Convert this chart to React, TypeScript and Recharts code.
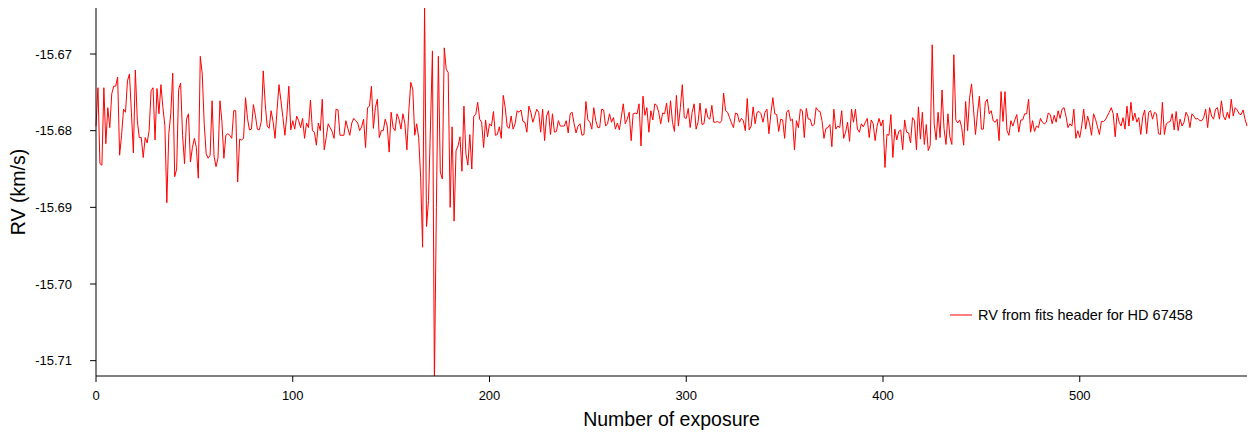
import { LineChart, Line, XAxis, YAxis } from 'recharts';

// RV per exposure in blocks of about fifty exposures
const rvEarly = [
  -15.6794, -15.6744, -15.6843, -15.6845, -15.6744, -15.6817, -15.6770, -15.6796, -15.6752, -15.6742,
  -15.6742, -15.6730, -15.6832, -15.6806, -15.6772, -15.6776, -15.6735, -15.6726, -15.6776, -15.6829,
  -15.6721, -15.6787, -15.6809, -15.6809, -15.6835, -15.6809, -15.6816, -15.6800, -15.6748, -15.6744,
  -15.6812, -15.6745, -15.6778, -15.6740, -15.6770, -15.6793, -15.6894, -15.6804, -15.6778, -15.6725,
  -15.6860, -15.6850, -15.6746, -15.6738, -15.6806, -15.6843,
  -15.6785, -15.6778, -15.6841, -15.6822, -15.6810, -15.6822, -15.6862, -15.6703, -15.6726, -15.6791,
  -15.6830, -15.6836, -15.6832, -15.6761, -15.6833, -15.6847, -15.6836, -15.6761, -15.6788, -15.6836,
  -15.6806, -15.6804, -15.6806, -15.6810, -15.6774, -15.6774, -15.6867, -15.6811, -15.6812, -15.6810,
  -15.6757, -15.6784, -15.6799, -15.6798, -15.6766, -15.6780, -15.6798, -15.6799, -15.6788, -15.6722,
  -15.6765, -15.6794, -15.6797, -15.6774, -15.6788, -15.6810, -15.6774, -15.6740, -15.6761, -15.6783,
  -15.6806,
  -15.6780, -15.6742, -15.6799, -15.6787, -15.6798, -15.6781, -15.6787, -15.6796, -15.6784, -15.6810,
  -15.6790, -15.6796, -15.6760, -15.6800, -15.6802, -15.6819, -15.6790, -15.6800, -15.6759, -15.6825,
  -15.6809, -15.6791, -15.6796, -15.6801, -15.6810, -15.6772, -15.6773, -15.6806, -15.6806, -15.6806,
  -15.6787, -15.6797, -15.6806, -15.6790, -15.6784, -15.6787, -15.6790, -15.6800, -15.6795, -15.6785,
  -15.6822, -15.6770, -15.6768, -15.6742, -15.6797, -15.6770, -15.6759, -15.6809, -15.6800,
];

const rvSpike = [
  -15.6800, -15.6785, -15.6794, -15.6828, -15.6776, -15.6796, -15.6800, -15.6778, -15.6785, -15.6798,
  -15.6778, -15.6791, -15.6825, -15.6774, -15.6737, -15.6746, -15.6806, -15.6791, -15.6809, -15.6861,
  -15.6952, -15.6635, -15.6925, -15.6891, -15.6794, -15.6696, -15.7130, -15.6900, -15.6703, -15.6854,
  -15.6863, -15.6692, -15.6720, -15.6724, -15.6900, -15.6795, -15.6918, -15.6826, -15.6820, -15.6808,
  -15.6853, -15.6768, -15.6830, -15.6845, -15.6805, -15.6850, -15.6781, -15.6779, -15.6763,
];

const rvMiddle = [
  -15.6785, -15.6789, -15.6822, -15.6786, -15.6808, -15.6791, -15.6794, -15.6775, -15.6806, -15.6805,
  -15.6795, -15.6810, -15.6754, -15.6770, -15.6795, -15.6797, -15.6781, -15.6798, -15.6791, -15.6774,
  -15.6776, -15.6773, -15.6788, -15.6789, -15.6802, -15.6768, -15.6776, -15.6789, -15.6781, -15.6772,
  -15.6776, -15.6802, -15.6772, -15.6813, -15.6781, -15.6774, -15.6805, -15.6778, -15.6802, -15.6801,
  -15.6787, -15.6794, -15.6794, -15.6794, -15.6787, -15.6803, -15.6778, -15.6776,
  -15.6791, -15.6803, -15.6794, -15.6791, -15.6806, -15.6805, -15.6762, -15.6786, -15.6789, -15.6798,
  -15.6770, -15.6787, -15.6796, -15.6796, -15.6772, -15.6773, -15.6794, -15.6791, -15.6778, -15.6789,
  -15.6783, -15.6798, -15.6790, -15.6799, -15.6782, -15.6765, -15.6791, -15.6785, -15.6776, -15.6813,
  -15.6778, -15.6777, -15.6778, -15.6765, -15.6820, -15.6755, -15.6780, -15.6770, -15.6802, -15.6774,
  -15.6786, -15.6765, -15.6767, -15.6776, -15.6791, -15.6777, -15.6778, -15.6764, -15.6789,
  -15.6761, -15.6789, -15.6801, -15.6754, -15.6794, -15.6770, -15.6740, -15.6783, -15.6784, -15.6771,
  -15.6796, -15.6776, -15.6765, -15.6798, -15.6789, -15.6764, -15.6792, -15.6791, -15.6771, -15.6783,
  -15.6785, -15.6767, -15.6789, -15.6789, -15.6788, -15.6790, -15.6787, -15.6751, -15.6774, -15.6776,
  -15.6783, -15.6790, -15.6796, -15.6777, -15.6778, -15.6789, -15.6784, -15.6787, -15.6800, -15.6758,
  -15.6799, -15.6794, -15.6769, -15.6791, -15.6776, -15.6775, -15.6778, -15.6789, -15.6776,
  -15.6772, -15.6804, -15.6778, -15.6757, -15.6778, -15.6779, -15.6801, -15.6785, -15.6786, -15.6810,
  -15.6776, -15.6773, -15.6787, -15.6785, -15.6825, -15.6787, -15.6796, -15.6772, -15.6774, -15.6809,
  -15.6771, -15.6785, -15.6785, -15.6794, -15.6792, -15.6770, -15.6774, -15.6775, -15.6787, -15.6810,
  -15.6797, -15.6796, -15.6792, -15.6821, -15.6772, -15.6798, -15.6794, -15.6796, -15.6774, -15.6810,
  -15.6802, -15.6789, -15.6814, -15.6772, -15.6789, -15.6772, -15.6798, -15.6802, -15.6791,
];

const rvLate = [
  -15.6795, -15.6789, -15.6784, -15.6809, -15.6786, -15.6791, -15.6813, -15.6794, -15.6784, -15.6794,
  -15.6786, -15.6848, -15.6805, -15.6806, -15.6779, -15.6835, -15.6798, -15.6812, -15.6801, -15.6799,
  -15.6825, -15.6786, -15.6802, -15.6803, -15.6816, -15.6783, -15.6787, -15.6825, -15.6769, -15.6811,
  -15.6776, -15.6818, -15.6792, -15.6826, -15.6819, -15.6688, -15.6791, -15.6812, -15.6776, -15.6809,
  -15.6747, -15.6797, -15.6818, -15.6778, -15.6808, -15.6818, -15.6701, -15.6786, -15.6790,
  -15.6786, -15.6796, -15.6819, -15.6762, -15.6800, -15.6757, -15.6739, -15.6772, -15.6805, -15.6778,
  -15.6755, -15.6798, -15.6798, -15.6763, -15.6759, -15.6778, -15.6774, -15.6787, -15.6789, -15.6785,
  -15.6813, -15.6749, -15.6788, -15.6749, -15.6800, -15.6806, -15.6787, -15.6794, -15.6786, -15.6779,
  -15.6802, -15.6786, -15.6786, -15.6778, -15.6778, -15.6759, -15.6802, -15.6787, -15.6801, -15.6794,
  -15.6796, -15.6784, -15.6789, -15.6791, -15.6789, -15.6777, -15.6779, -15.6791, -15.6780,
  -15.6789, -15.6774, -15.6784, -15.6772, -15.6770, -15.6781, -15.6796, -15.6791, -15.6794, -15.6772,
  -15.6810, -15.6800, -15.6809, -15.6794, -15.6772, -15.6798, -15.6781, -15.6791, -15.6806, -15.6778,
  -15.6785, -15.6795, -15.6805, -15.6788, -15.6788, -15.6786, -15.6781, -15.6776, -15.6770, -15.6778,
  -15.6808, -15.6777, -15.6789, -15.6794, -15.6783, -15.6798, -15.6768, -15.6794, -15.6763, -15.6787,
  -15.6777, -15.6789, -15.6783, -15.6805, -15.6782, -15.6773, -15.6804, -15.6776,
  -15.6774, -15.6785, -15.6776, -15.6778, -15.6804, -15.6805, -15.6763, -15.6805, -15.6791, -15.6789,
  -15.6788, -15.6778, -15.6799, -15.6775, -15.6800, -15.6785, -15.6794, -15.6789, -15.6776, -15.6781,
  -15.6796, -15.6778, -15.6781, -15.6785, -15.6784, -15.6787, -15.6787, -15.6783, -15.6772, -15.6796,
  -15.6770, -15.6781, -15.6785, -15.6772, -15.6770, -15.6785, -15.6761, -15.6781, -15.6786, -15.6776,
  -15.6784, -15.6759, -15.6781, -15.6770, -15.6773, -15.6778, -15.6779, -15.6773, -15.6785, -15.6794,
];

const xTicks = [0, 100, 200, 300, 400, 500];
const yTicks = [-15.71, -15.7, -15.69, -15.68, -15.67];
const xDomain = [0, 585];
const yDomain = [-15.712, -15.664];
const seriesName = 'RV from fits header for HD 67458';

const rv = [...rvEarly, ...rvSpike, ...rvMiddle, ...rvLate];
const data = rv.map((v, i) => ({ n: i, rv: v }));

const font = '"Liberation Sans", Arial, Helvetica, sans-serif';

function YTitle(props: any) {
  const vb = props.viewBox || { x: 0, y: 8, width: 96, height: 368 };
  const cx = 18;
  const cy = vb.y + vb.height / 2;
  return (
    <text x={cx} y={cy} transform={`rotate(-90, ${cx}, ${cy})`} textAnchor="middle"
      dominantBaseline="central" fontSize={19.5} fontFamily={font} fill="#000">
      RV (km/s)
    </text>
  );
}

function XTitle(props: any) {
  const vb = props.viewBox || { x: 96, y: 376, width: 1151, height: 56 };
  return (
    <text x={vb.x + vb.width / 2} y={419} textAnchor="middle" dominantBaseline="central"
      fontSize={19.5} fontFamily={font} fill="#000">
      Number of exposure
    </text>
  );
}

export default function App() {
  return (
    <div style={{ position: 'absolute', left: 0, top: 0, width: 1248, height: 432, background: '#fff' }}>
      <LineChart width={1248} height={432} data={data} margin={{ top: 8, right: 1, left: 0, bottom: 0 }}>
        <XAxis
          dataKey="n"
          type="number"
          domain={xDomain}
          ticks={xTicks}
          height={56}
          tick={{ fill: '#000', fontSize: 13, fontFamily: font }}
          tickSize={6}
          tickMargin={9}
          axisLine={{ stroke: '#000', strokeWidth: 1 }}
          tickLine={{ stroke: '#000' }}
          label={<XTitle />}
        />
        <YAxis
          type="number"
          domain={yDomain}
          allowDataOverflow
          ticks={yTicks}
          width={96}
          tickFormatter={(v: number) => v.toFixed(2)}
          tick={{ fill: '#000', fontSize: 13, fontFamily: font }}
          tickSize={6}
          tickMargin={18}
          axisLine={{ stroke: '#000', strokeWidth: 1 }}
          tickLine={{ stroke: '#000' }}
          label={<YTitle />}
        />
        <Line
          type="linear"
          dataKey="rv"
          name={seriesName}
          stroke="#ff0000"
          strokeWidth={1}
          dot={false}
          isAnimationActive={false}
        />
      </LineChart>
      <div style={{ position: 'absolute', left: 950, top: 306, display: 'flex', alignItems: 'center',
        fontFamily: font, fontSize: 14.5, color: '#000', whiteSpace: 'nowrap', lineHeight: '18px' }}>
        <svg width={22} height={4} style={{ marginRight: 6 }}>
          <line x1={0} y1={2} x2={22} y2={2} stroke="#ff0000" strokeWidth={1} />
        </svg>
        <span>{seriesName}</span>
      </div>
    </div>
  );
}
